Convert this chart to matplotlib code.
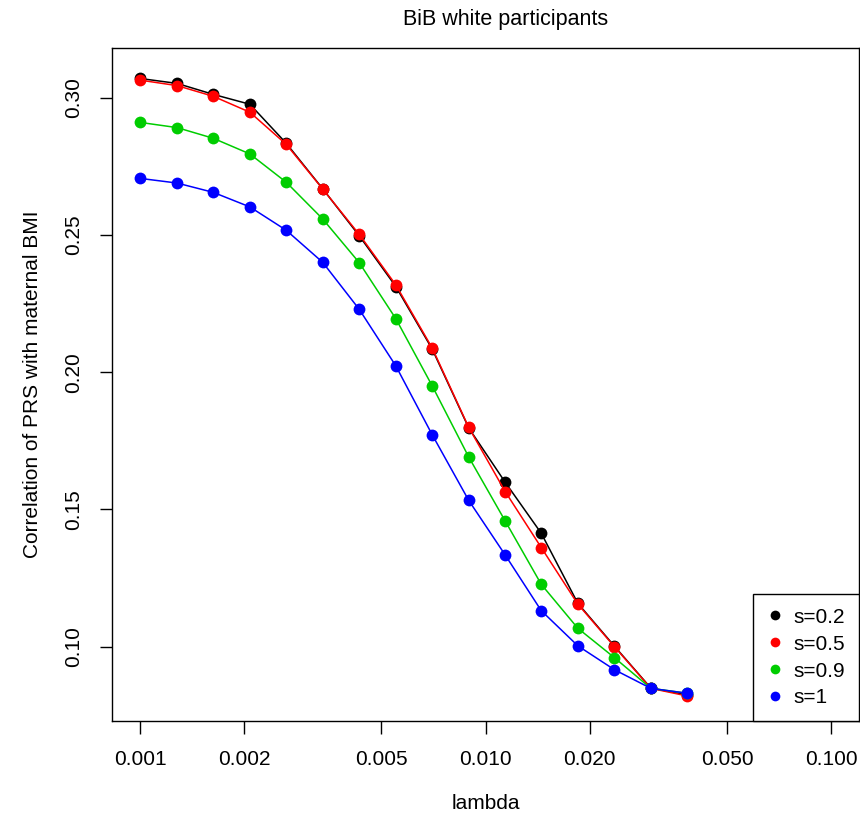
import matplotlib.pyplot as plt
from matplotlib.ticker import FixedLocator, NullLocator
import numpy as np

plt.rcParams['font.family'] = ['Liberation Sans', 'DejaVu Sans']

# lambda grid (log spaced)
lam = [0.00100, 0.00128, 0.00163, 0.00208, 0.00265, 0.00338, 0.00431, 0.00550,
       0.00701, 0.00894, 0.0114, 0.0145, 0.0185, 0.0236, 0.0301, 0.0384]

# correlation for each s
s02 = [0.3070, 0.3052, 0.3012, 0.2976, 0.2834, 0.2668, 0.2497, 0.2312,
       0.2084, 0.1797, 0.1599, 0.1413, 0.1158, 0.1002, 0.0849, 0.0824]
s05 = [0.3064, 0.3044, 0.3005, 0.2947, 0.2830, 0.2667, 0.2502, 0.2318,
       0.2088, 0.1799, 0.1565, 0.1361, 0.1155, 0.1000, 0.0848, 0.0820]
s09 = [0.2910, 0.2891, 0.2852, 0.2795, 0.2692, 0.2558, 0.2399, 0.2195,
       0.1950, 0.1691, 0.1458, 0.1227, 0.1067, 0.0960, 0.0848, 0.0830]
s1 = [0.2706, 0.2689, 0.2655, 0.2602, 0.2517, 0.2400, 0.2229, 0.2023,
      0.1772, 0.1533, 0.1334, 0.1131, 0.1003, 0.0916, 0.0848, 0.0830]

series = [('s=0.2', s02, 'black'), ('s=0.5', s05, '#FF0000'),
          ('s=0.9', s09, '#00CD00'), ('s=1', s1, '#0000FF')]

xticks = [0.001, 0.002, 0.005, 0.010, 0.020, 0.050, 0.100]
xticklabels = ['0.001', '0.002', '0.005', '0.010', '0.020', '0.050', '0.100']
yticks = [0.10, 0.15, 0.20, 0.25, 0.30]

fig = plt.figure(figsize=(8.6, 8.23), dpi=100)
ax = fig.add_axes([112 / 860, 1 - 721 / 823, 747 / 860, 673 / 823])

for label, vals, col in series:
    ax.plot(lam, vals, color=col, lw=1.1, marker='o', markersize=8.5,
            markeredgewidth=0, label=label)

ax.set_xscale('log')
ax.set_xlim(10 ** -3.081, 10 ** -0.919)
ax.set_ylim(0.0729, 0.3181)

ax.xaxis.set_major_locator(FixedLocator(xticks))
ax.xaxis.set_minor_locator(NullLocator())
ax.set_xticklabels(xticklabels)
ax.set_yticks(yticks)
ax.set_yticklabels(['0.10', '0.15', '0.20', '0.25', '0.30'], rotation=90, va='center')

ax.tick_params(axis='both', direction='out', length=9, width=1, labelsize=15, pad=12)
for sp in ax.spines.values():
    sp.set_linewidth(1)

ax.set_xlabel('lambda', fontsize=15, labelpad=18)
ax.set_ylabel('Correlation of PRS with maternal BMI', fontsize=15, labelpad=16)
fig.text(506 / 860, 1 - 19 / 823, 'BiB white participants', fontsize=15.5,
         ha='center', va='center')

handles = [plt.Line2D([], [], ls='none', marker='o', markersize=7,
                      markeredgewidth=0, color=c) for _, _, c in series]
leg = ax.legend(handles, [s[0] for s in series], loc='lower right', fontsize=15,
                frameon=True, fancybox=False, edgecolor='black', framealpha=1,
                borderaxespad=0, handlelength=0.8, handletextpad=0.5,
                labelspacing=0.38, borderpad=0.65)
leg.get_frame().set_linewidth(1)

fig.savefig('out.png', dpi=100)
